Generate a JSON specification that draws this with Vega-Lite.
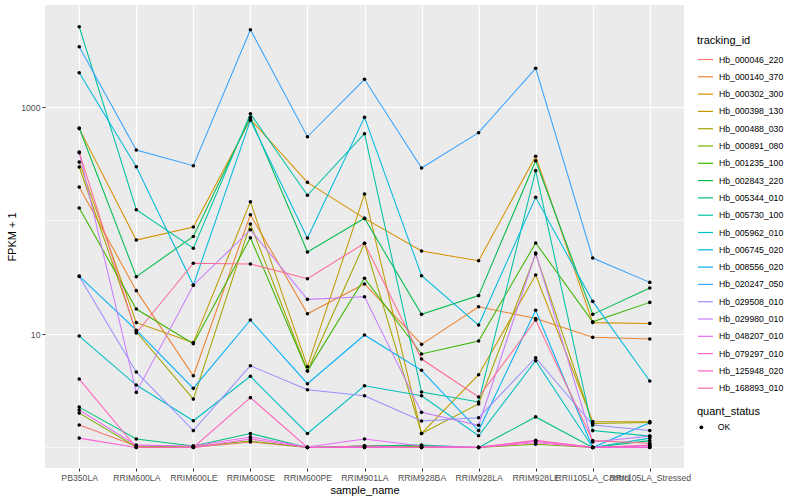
{
  "$schema": "https://vega.github.io/schema/vega-lite/v6.json",
  "width": 639,
  "height": 463,
  "autosize": {"type": "none"},
  "padding": {"left": 45, "top": 5, "right": 116, "bottom": 32},
  "background": "white",
  "config": {
    "font": "Liberation Sans",
    "view": {"fill": "#EBEBEB", "stroke": null},
    "axis": {
      "domain": false,
      "gridColor": "white",
      "gridWidth": 1.1,
      "tickColor": "#333333",
      "tickSize": 3,
      "labelColor": "#4D4D4D",
      "labelFontSize": 8.7,
      "labelPadding": 2,
      "titleFontSize": 11,
      "titleFontWeight": "normal",
      "titleColor": "black"
    },
    "legend": {
      "titleFontSize": 11,
      "titleFontWeight": "normal",
      "titleColor": "black",
      "labelFontSize": 8.7,
      "labelColor": "black"
    }
  },
  "data": {
    "values": [
      {"tracking_id":"Hb_000046_220","sample_name":"PB350LA","fpkm_plus_1":1.58,"quant_status":"OK"},
      {"tracking_id":"Hb_000046_220","sample_name":"RRIM600LA","fpkm_plus_1":1.03,"quant_status":"OK"},
      {"tracking_id":"Hb_000046_220","sample_name":"RRIM600LE","fpkm_plus_1":1.0,"quant_status":"OK"},
      {"tracking_id":"Hb_000046_220","sample_name":"RRIM600SE","fpkm_plus_1":1.12,"quant_status":"OK"},
      {"tracking_id":"Hb_000046_220","sample_name":"RRIM600PE","fpkm_plus_1":1.0,"quant_status":"OK"},
      {"tracking_id":"Hb_000046_220","sample_name":"RRIM901LA","fpkm_plus_1":1.0,"quant_status":"OK"},
      {"tracking_id":"Hb_000046_220","sample_name":"RRIM928BA","fpkm_plus_1":1.0,"quant_status":"OK"},
      {"tracking_id":"Hb_000046_220","sample_name":"RRIM928LA","fpkm_plus_1":1.0,"quant_status":"OK"},
      {"tracking_id":"Hb_000046_220","sample_name":"RRIM928LE","fpkm_plus_1":1.14,"quant_status":"OK"},
      {"tracking_id":"Hb_000046_220","sample_name":"RRII105LA_Control","fpkm_plus_1":1.0,"quant_status":"OK"},
      {"tracking_id":"Hb_000046_220","sample_name":"RRII105LA_Stressed","fpkm_plus_1":1.0,"quant_status":"OK"},

      {"tracking_id":"Hb_000140_370","sample_name":"PB350LA","fpkm_plus_1":197,"quant_status":"OK"},
      {"tracking_id":"Hb_000140_370","sample_name":"RRIM600LA","fpkm_plus_1":24.1,"quant_status":"OK"},
      {"tracking_id":"Hb_000140_370","sample_name":"RRIM600LE","fpkm_plus_1":4.29,"quant_status":"OK"},
      {"tracking_id":"Hb_000140_370","sample_name":"RRIM600SE","fpkm_plus_1":112.5,"quant_status":"OK"},
      {"tracking_id":"Hb_000140_370","sample_name":"RRIM600PE","fpkm_plus_1":15.1,"quant_status":"OK"},
      {"tracking_id":"Hb_000140_370","sample_name":"RRIM901LA","fpkm_plus_1":27.6,"quant_status":"OK"},
      {"tracking_id":"Hb_000140_370","sample_name":"RRIM928BA","fpkm_plus_1":8.11,"quant_status":"OK"},
      {"tracking_id":"Hb_000140_370","sample_name":"RRIM928LA","fpkm_plus_1":17.4,"quant_status":"OK"},
      {"tracking_id":"Hb_000140_370","sample_name":"RRIM928LE","fpkm_plus_1":13.7,"quant_status":"OK"},
      {"tracking_id":"Hb_000140_370","sample_name":"RRII105LA_Control","fpkm_plus_1":9.35,"quant_status":"OK"},
      {"tracking_id":"Hb_000140_370","sample_name":"RRII105LA_Stressed","fpkm_plus_1":9.03,"quant_status":"OK"},

      {"tracking_id":"Hb_000302_300","sample_name":"PB350LA","fpkm_plus_1":645,"quant_status":"OK"},
      {"tracking_id":"Hb_000302_300","sample_name":"RRIM600LA","fpkm_plus_1":67.3,"quant_status":"OK"},
      {"tracking_id":"Hb_000302_300","sample_name":"RRIM600LE","fpkm_plus_1":87.7,"quant_status":"OK"},
      {"tracking_id":"Hb_000302_300","sample_name":"RRIM600SE","fpkm_plus_1":779,"quant_status":"OK"},
      {"tracking_id":"Hb_000302_300","sample_name":"RRIM600PE","fpkm_plus_1":217,"quant_status":"OK"},
      {"tracking_id":"Hb_000302_300","sample_name":"RRIM901LA","fpkm_plus_1":104.5,"quant_status":"OK"},
      {"tracking_id":"Hb_000302_300","sample_name":"RRIM928BA","fpkm_plus_1":53.8,"quant_status":"OK"},
      {"tracking_id":"Hb_000302_300","sample_name":"RRIM928LA","fpkm_plus_1":44.2,"quant_status":"OK"},
      {"tracking_id":"Hb_000302_300","sample_name":"RRIM928LE","fpkm_plus_1":368,"quant_status":"OK"},
      {"tracking_id":"Hb_000302_300","sample_name":"RRII105LA_Control","fpkm_plus_1":12.6,"quant_status":"OK"},
      {"tracking_id":"Hb_000302_300","sample_name":"RRII105LA_Stressed","fpkm_plus_1":12.4,"quant_status":"OK"},

      {"tracking_id":"Hb_000398_130","sample_name":"PB350LA","fpkm_plus_1":327,"quant_status":"OK"},
      {"tracking_id":"Hb_000398_130","sample_name":"RRIM600LA","fpkm_plus_1":12.6,"quant_status":"OK"},
      {"tracking_id":"Hb_000398_130","sample_name":"RRIM600LE","fpkm_plus_1":8.4,"quant_status":"OK"},
      {"tracking_id":"Hb_000398_130","sample_name":"RRIM600SE","fpkm_plus_1":146,"quant_status":"OK"},
      {"tracking_id":"Hb_000398_130","sample_name":"RRIM600PE","fpkm_plus_1":5.15,"quant_status":"OK"},
      {"tracking_id":"Hb_000398_130","sample_name":"RRIM901LA","fpkm_plus_1":171,"quant_status":"OK"},
      {"tracking_id":"Hb_000398_130","sample_name":"RRIM928BA","fpkm_plus_1":1.33,"quant_status":"OK"},
      {"tracking_id":"Hb_000398_130","sample_name":"RRIM928LA","fpkm_plus_1":4.38,"quant_status":"OK"},
      {"tracking_id":"Hb_000398_130","sample_name":"RRIM928LE","fpkm_plus_1":33.1,"quant_status":"OK"},
      {"tracking_id":"Hb_000398_130","sample_name":"RRII105LA_Control","fpkm_plus_1":1.69,"quant_status":"OK"},
      {"tracking_id":"Hb_000398_130","sample_name":"RRII105LA_Stressed","fpkm_plus_1":1.69,"quant_status":"OK"},

      {"tracking_id":"Hb_000488_030","sample_name":"PB350LA","fpkm_plus_1":296,"quant_status":"OK"},
      {"tracking_id":"Hb_000488_030","sample_name":"RRIM600LA","fpkm_plus_1":10.45,"quant_status":"OK"},
      {"tracking_id":"Hb_000488_030","sample_name":"RRIM600LE","fpkm_plus_1":2.67,"quant_status":"OK"},
      {"tracking_id":"Hb_000488_030","sample_name":"RRIM600SE","fpkm_plus_1":93.1,"quant_status":"OK"},
      {"tracking_id":"Hb_000488_030","sample_name":"RRIM600PE","fpkm_plus_1":4.72,"quant_status":"OK"},
      {"tracking_id":"Hb_000488_030","sample_name":"RRIM901LA","fpkm_plus_1":63.0,"quant_status":"OK"},
      {"tracking_id":"Hb_000488_030","sample_name":"RRIM928BA","fpkm_plus_1":1.33,"quant_status":"OK"},
      {"tracking_id":"Hb_000488_030","sample_name":"RRIM928LA","fpkm_plus_1":2.42,"quant_status":"OK"},
      {"tracking_id":"Hb_000488_030","sample_name":"RRIM928LE","fpkm_plus_1":50.7,"quant_status":"OK"},
      {"tracking_id":"Hb_000488_030","sample_name":"RRII105LA_Control","fpkm_plus_1":1.63,"quant_status":"OK"},
      {"tracking_id":"Hb_000488_030","sample_name":"RRII105LA_Stressed","fpkm_plus_1":1.66,"quant_status":"OK"},

      {"tracking_id":"Hb_000891_080","sample_name":"PB350LA","fpkm_plus_1":2.01,"quant_status":"OK"},
      {"tracking_id":"Hb_000891_080","sample_name":"RRIM600LA","fpkm_plus_1":1.01,"quant_status":"OK"},
      {"tracking_id":"Hb_000891_080","sample_name":"RRIM600LE","fpkm_plus_1":1.02,"quant_status":"OK"},
      {"tracking_id":"Hb_000891_080","sample_name":"RRIM600SE","fpkm_plus_1":1.14,"quant_status":"OK"},
      {"tracking_id":"Hb_000891_080","sample_name":"RRIM600PE","fpkm_plus_1":1.0,"quant_status":"OK"},
      {"tracking_id":"Hb_000891_080","sample_name":"RRIM901LA","fpkm_plus_1":1.03,"quant_status":"OK"},
      {"tracking_id":"Hb_000891_080","sample_name":"RRIM928BA","fpkm_plus_1":1.02,"quant_status":"OK"},
      {"tracking_id":"Hb_000891_080","sample_name":"RRIM928LA","fpkm_plus_1":1.0,"quant_status":"OK"},
      {"tracking_id":"Hb_000891_080","sample_name":"RRIM928LE","fpkm_plus_1":1.07,"quant_status":"OK"},
      {"tracking_id":"Hb_000891_080","sample_name":"RRII105LA_Control","fpkm_plus_1":1.0,"quant_status":"OK"},
      {"tracking_id":"Hb_000891_080","sample_name":"RRII105LA_Stressed","fpkm_plus_1":1.04,"quant_status":"OK"},

      {"tracking_id":"Hb_001235_100","sample_name":"PB350LA","fpkm_plus_1":129,"quant_status":"OK"},
      {"tracking_id":"Hb_001235_100","sample_name":"RRIM600LA","fpkm_plus_1":16.6,"quant_status":"OK"},
      {"tracking_id":"Hb_001235_100","sample_name":"RRIM600LE","fpkm_plus_1":8.22,"quant_status":"OK"},
      {"tracking_id":"Hb_001235_100","sample_name":"RRIM600SE","fpkm_plus_1":70.5,"quant_status":"OK"},
      {"tracking_id":"Hb_001235_100","sample_name":"RRIM600PE","fpkm_plus_1":4.72,"quant_status":"OK"},
      {"tracking_id":"Hb_001235_100","sample_name":"RRIM901LA","fpkm_plus_1":31.0,"quant_status":"OK"},
      {"tracking_id":"Hb_001235_100","sample_name":"RRIM928BA","fpkm_plus_1":6.67,"quant_status":"OK"},
      {"tracking_id":"Hb_001235_100","sample_name":"RRIM928LA","fpkm_plus_1":8.68,"quant_status":"OK"},
      {"tracking_id":"Hb_001235_100","sample_name":"RRIM928LE","fpkm_plus_1":63.4,"quant_status":"OK"},
      {"tracking_id":"Hb_001235_100","sample_name":"RRII105LA_Control","fpkm_plus_1":12.8,"quant_status":"OK"},
      {"tracking_id":"Hb_001235_100","sample_name":"RRII105LA_Stressed","fpkm_plus_1":19.0,"quant_status":"OK"},

      {"tracking_id":"Hb_002843_220","sample_name":"PB350LA","fpkm_plus_1":653,"quant_status":"OK"},
      {"tracking_id":"Hb_002843_220","sample_name":"RRIM600LA","fpkm_plus_1":32.0,"quant_status":"OK"},
      {"tracking_id":"Hb_002843_220","sample_name":"RRIM600LE","fpkm_plus_1":72.3,"quant_status":"OK"},
      {"tracking_id":"Hb_002843_220","sample_name":"RRIM600SE","fpkm_plus_1":811,"quant_status":"OK"},
      {"tracking_id":"Hb_002843_220","sample_name":"RRIM600PE","fpkm_plus_1":52.8,"quant_status":"OK"},
      {"tracking_id":"Hb_002843_220","sample_name":"RRIM901LA","fpkm_plus_1":104.5,"quant_status":"OK"},
      {"tracking_id":"Hb_002843_220","sample_name":"RRIM928BA","fpkm_plus_1":14.9,"quant_status":"OK"},
      {"tracking_id":"Hb_002843_220","sample_name":"RRIM928LA","fpkm_plus_1":21.8,"quant_status":"OK"},
      {"tracking_id":"Hb_002843_220","sample_name":"RRIM928LE","fpkm_plus_1":336,"quant_status":"OK"},
      {"tracking_id":"Hb_002843_220","sample_name":"RRII105LA_Control","fpkm_plus_1":14.9,"quant_status":"OK"},
      {"tracking_id":"Hb_002843_220","sample_name":"RRII105LA_Stressed","fpkm_plus_1":25.4,"quant_status":"OK"},

      {"tracking_id":"Hb_005344_010","sample_name":"PB350LA","fpkm_plus_1":2.27,"quant_status":"OK"},
      {"tracking_id":"Hb_005344_010","sample_name":"RRIM600LA","fpkm_plus_1":1.19,"quant_status":"OK"},
      {"tracking_id":"Hb_005344_010","sample_name":"RRIM600LE","fpkm_plus_1":1.03,"quant_status":"OK"},
      {"tracking_id":"Hb_005344_010","sample_name":"RRIM600SE","fpkm_plus_1":1.33,"quant_status":"OK"},
      {"tracking_id":"Hb_005344_010","sample_name":"RRIM600PE","fpkm_plus_1":1.0,"quant_status":"OK"},
      {"tracking_id":"Hb_005344_010","sample_name":"RRIM901LA","fpkm_plus_1":1.03,"quant_status":"OK"},
      {"tracking_id":"Hb_005344_010","sample_name":"RRIM928BA","fpkm_plus_1":1.05,"quant_status":"OK"},
      {"tracking_id":"Hb_005344_010","sample_name":"RRIM928LA","fpkm_plus_1":1.0,"quant_status":"OK"},
      {"tracking_id":"Hb_005344_010","sample_name":"RRIM928LE","fpkm_plus_1":1.86,"quant_status":"OK"},
      {"tracking_id":"Hb_005344_010","sample_name":"RRII105LA_Control","fpkm_plus_1":1.0,"quant_status":"OK"},
      {"tracking_id":"Hb_005344_010","sample_name":"RRII105LA_Stressed","fpkm_plus_1":1.15,"quant_status":"OK"},

      {"tracking_id":"Hb_005730_100","sample_name":"PB350LA","fpkm_plus_1":5097,"quant_status":"OK"},
      {"tracking_id":"Hb_005730_100","sample_name":"RRIM600LA","fpkm_plus_1":124.5,"quant_status":"OK"},
      {"tracking_id":"Hb_005730_100","sample_name":"RRIM600LE","fpkm_plus_1":56.9,"quant_status":"OK"},
      {"tracking_id":"Hb_005730_100","sample_name":"RRIM600SE","fpkm_plus_1":873,"quant_status":"OK"},
      {"tracking_id":"Hb_005730_100","sample_name":"RRIM600PE","fpkm_plus_1":167,"quant_status":"OK"},
      {"tracking_id":"Hb_005730_100","sample_name":"RRIM901LA","fpkm_plus_1":582,"quant_status":"OK"},
      {"tracking_id":"Hb_005730_100","sample_name":"RRIM928BA","fpkm_plus_1":3.08,"quant_status":"OK"},
      {"tracking_id":"Hb_005730_100","sample_name":"RRIM928LA","fpkm_plus_1":2.52,"quant_status":"OK"},
      {"tracking_id":"Hb_005730_100","sample_name":"RRIM928LE","fpkm_plus_1":275,"quant_status":"OK"},
      {"tracking_id":"Hb_005730_100","sample_name":"RRII105LA_Control","fpkm_plus_1":1.41,"quant_status":"OK"},
      {"tracking_id":"Hb_005730_100","sample_name":"RRII105LA_Stressed","fpkm_plus_1":1.26,"quant_status":"OK"},

      {"tracking_id":"Hb_005962_010","sample_name":"PB350LA","fpkm_plus_1":9.6,"quant_status":"OK"},
      {"tracking_id":"Hb_005962_010","sample_name":"RRIM600LA","fpkm_plus_1":3.55,"quant_status":"OK"},
      {"tracking_id":"Hb_005962_010","sample_name":"RRIM600LE","fpkm_plus_1":1.72,"quant_status":"OK"},
      {"tracking_id":"Hb_005962_010","sample_name":"RRIM600SE","fpkm_plus_1":4.24,"quant_status":"OK"},
      {"tracking_id":"Hb_005962_010","sample_name":"RRIM600PE","fpkm_plus_1":1.33,"quant_status":"OK"},
      {"tracking_id":"Hb_005962_010","sample_name":"RRIM901LA","fpkm_plus_1":3.5,"quant_status":"OK"},
      {"tracking_id":"Hb_005962_010","sample_name":"RRIM928BA","fpkm_plus_1":2.86,"quant_status":"OK"},
      {"tracking_id":"Hb_005962_010","sample_name":"RRIM928LA","fpkm_plus_1":1.27,"quant_status":"OK"},
      {"tracking_id":"Hb_005962_010","sample_name":"RRIM928LE","fpkm_plus_1":5.82,"quant_status":"OK"},
      {"tracking_id":"Hb_005962_010","sample_name":"RRII105LA_Control","fpkm_plus_1":1.0,"quant_status":"OK"},
      {"tracking_id":"Hb_005962_010","sample_name":"RRII105LA_Stressed","fpkm_plus_1":1.21,"quant_status":"OK"},

      {"tracking_id":"Hb_006745_020","sample_name":"PB350LA","fpkm_plus_1":2005,"quant_status":"OK"},
      {"tracking_id":"Hb_006745_020","sample_name":"RRIM600LA","fpkm_plus_1":298,"quant_status":"OK"},
      {"tracking_id":"Hb_006745_020","sample_name":"RRIM600LE","fpkm_plus_1":27.0,"quant_status":"OK"},
      {"tracking_id":"Hb_006745_020","sample_name":"RRIM600SE","fpkm_plus_1":764,"quant_status":"OK"},
      {"tracking_id":"Hb_006745_020","sample_name":"RRIM600PE","fpkm_plus_1":70.1,"quant_status":"OK"},
      {"tracking_id":"Hb_006745_020","sample_name":"RRIM901LA","fpkm_plus_1":811,"quant_status":"OK"},
      {"tracking_id":"Hb_006745_020","sample_name":"RRIM928BA","fpkm_plus_1":32.6,"quant_status":"OK"},
      {"tracking_id":"Hb_006745_020","sample_name":"RRIM928LA","fpkm_plus_1":12.0,"quant_status":"OK"},
      {"tracking_id":"Hb_006745_020","sample_name":"RRIM928LE","fpkm_plus_1":160,"quant_status":"OK"},
      {"tracking_id":"Hb_006745_020","sample_name":"RRII105LA_Control","fpkm_plus_1":19.4,"quant_status":"OK"},
      {"tracking_id":"Hb_006745_020","sample_name":"RRII105LA_Stressed","fpkm_plus_1":3.85,"quant_status":"OK"},

      {"tracking_id":"Hb_008556_020","sample_name":"PB350LA","fpkm_plus_1":32.4,"quant_status":"OK"},
      {"tracking_id":"Hb_008556_020","sample_name":"RRIM600LA","fpkm_plus_1":10.8,"quant_status":"OK"},
      {"tracking_id":"Hb_008556_020","sample_name":"RRIM600LE","fpkm_plus_1":3.32,"quant_status":"OK"},
      {"tracking_id":"Hb_008556_020","sample_name":"RRIM600SE","fpkm_plus_1":13.3,"quant_status":"OK"},
      {"tracking_id":"Hb_008556_020","sample_name":"RRIM600PE","fpkm_plus_1":3.65,"quant_status":"OK"},
      {"tracking_id":"Hb_008556_020","sample_name":"RRIM901LA","fpkm_plus_1":9.8,"quant_status":"OK"},
      {"tracking_id":"Hb_008556_020","sample_name":"RRIM928BA","fpkm_plus_1":4.79,"quant_status":"OK"},
      {"tracking_id":"Hb_008556_020","sample_name":"RRIM928LA","fpkm_plus_1":1.41,"quant_status":"OK"},
      {"tracking_id":"Hb_008556_020","sample_name":"RRIM928LE","fpkm_plus_1":16.2,"quant_status":"OK"},
      {"tracking_id":"Hb_008556_020","sample_name":"RRII105LA_Control","fpkm_plus_1":1.0,"quant_status":"OK"},
      {"tracking_id":"Hb_008556_020","sample_name":"RRII105LA_Stressed","fpkm_plus_1":1.65,"quant_status":"OK"},

      {"tracking_id":"Hb_020247_050","sample_name":"PB350LA","fpkm_plus_1":3400,"quant_status":"OK"},
      {"tracking_id":"Hb_020247_050","sample_name":"RRIM600LA","fpkm_plus_1":418,"quant_status":"OK"},
      {"tracking_id":"Hb_020247_050","sample_name":"RRIM600LE","fpkm_plus_1":304,"quant_status":"OK"},
      {"tracking_id":"Hb_020247_050","sample_name":"RRIM600SE","fpkm_plus_1":4800,"quant_status":"OK"},
      {"tracking_id":"Hb_020247_050","sample_name":"RRIM600PE","fpkm_plus_1":547,"quant_status":"OK"},
      {"tracking_id":"Hb_020247_050","sample_name":"RRIM901LA","fpkm_plus_1":1754,"quant_status":"OK"},
      {"tracking_id":"Hb_020247_050","sample_name":"RRIM928BA","fpkm_plus_1":290,"quant_status":"OK"},
      {"tracking_id":"Hb_020247_050","sample_name":"RRIM928LA","fpkm_plus_1":594,"quant_status":"OK"},
      {"tracking_id":"Hb_020247_050","sample_name":"RRIM928LE","fpkm_plus_1":2193,"quant_status":"OK"},
      {"tracking_id":"Hb_020247_050","sample_name":"RRII105LA_Control","fpkm_plus_1":46.7,"quant_status":"OK"},
      {"tracking_id":"Hb_020247_050","sample_name":"RRII105LA_Stressed","fpkm_plus_1":28.5,"quant_status":"OK"},

      {"tracking_id":"Hb_029508_010","sample_name":"PB350LA","fpkm_plus_1":32.1,"quant_status":"OK"},
      {"tracking_id":"Hb_029508_010","sample_name":"RRIM600LA","fpkm_plus_1":4.63,"quant_status":"OK"},
      {"tracking_id":"Hb_029508_010","sample_name":"RRIM600LE","fpkm_plus_1":1.41,"quant_status":"OK"},
      {"tracking_id":"Hb_029508_010","sample_name":"RRIM600SE","fpkm_plus_1":5.26,"quant_status":"OK"},
      {"tracking_id":"Hb_029508_010","sample_name":"RRIM600PE","fpkm_plus_1":3.23,"quant_status":"OK"},
      {"tracking_id":"Hb_029508_010","sample_name":"RRIM901LA","fpkm_plus_1":2.86,"quant_status":"OK"},
      {"tracking_id":"Hb_029508_010","sample_name":"RRIM928BA","fpkm_plus_1":1.71,"quant_status":"OK"},
      {"tracking_id":"Hb_029508_010","sample_name":"RRIM928LA","fpkm_plus_1":1.83,"quant_status":"OK"},
      {"tracking_id":"Hb_029508_010","sample_name":"RRIM928LE","fpkm_plus_1":6.18,"quant_status":"OK"},
      {"tracking_id":"Hb_029508_010","sample_name":"RRII105LA_Control","fpkm_plus_1":1.58,"quant_status":"OK"},
      {"tracking_id":"Hb_029508_010","sample_name":"RRII105LA_Stressed","fpkm_plus_1":1.41,"quant_status":"OK"},

      {"tracking_id":"Hb_029980_010","sample_name":"PB350LA","fpkm_plus_1":395,"quant_status":"OK"},
      {"tracking_id":"Hb_029980_010","sample_name":"RRIM600LA","fpkm_plus_1":3.06,"quant_status":"OK"},
      {"tracking_id":"Hb_029980_010","sample_name":"RRIM600LE","fpkm_plus_1":26.9,"quant_status":"OK"},
      {"tracking_id":"Hb_029980_010","sample_name":"RRIM600SE","fpkm_plus_1":83,"quant_status":"OK"},
      {"tracking_id":"Hb_029980_010","sample_name":"RRIM600PE","fpkm_plus_1":20.2,"quant_status":"OK"},
      {"tracking_id":"Hb_029980_010","sample_name":"RRIM901LA","fpkm_plus_1":21.3,"quant_status":"OK"},
      {"tracking_id":"Hb_029980_010","sample_name":"RRIM928BA","fpkm_plus_1":2.04,"quant_status":"OK"},
      {"tracking_id":"Hb_029980_010","sample_name":"RRIM928LA","fpkm_plus_1":1.57,"quant_status":"OK"},
      {"tracking_id":"Hb_029980_010","sample_name":"RRIM928LE","fpkm_plus_1":51.7,"quant_status":"OK"},
      {"tracking_id":"Hb_029980_010","sample_name":"RRII105LA_Control","fpkm_plus_1":1.12,"quant_status":"OK"},
      {"tracking_id":"Hb_029980_010","sample_name":"RRII105LA_Stressed","fpkm_plus_1":1.26,"quant_status":"OK"},

      {"tracking_id":"Hb_048207_010","sample_name":"PB350LA","fpkm_plus_1":2.14,"quant_status":"OK"},
      {"tracking_id":"Hb_048207_010","sample_name":"RRIM600LA","fpkm_plus_1":1.05,"quant_status":"OK"},
      {"tracking_id":"Hb_048207_010","sample_name":"RRIM600LE","fpkm_plus_1":1.03,"quant_status":"OK"},
      {"tracking_id":"Hb_048207_010","sample_name":"RRIM600SE","fpkm_plus_1":1.24,"quant_status":"OK"},
      {"tracking_id":"Hb_048207_010","sample_name":"RRIM600PE","fpkm_plus_1":1.01,"quant_status":"OK"},
      {"tracking_id":"Hb_048207_010","sample_name":"RRIM901LA","fpkm_plus_1":1.19,"quant_status":"OK"},
      {"tracking_id":"Hb_048207_010","sample_name":"RRIM928BA","fpkm_plus_1":1.03,"quant_status":"OK"},
      {"tracking_id":"Hb_048207_010","sample_name":"RRIM928LA","fpkm_plus_1":1.01,"quant_status":"OK"},
      {"tracking_id":"Hb_048207_010","sample_name":"RRIM928LE","fpkm_plus_1":1.14,"quant_status":"OK"},
      {"tracking_id":"Hb_048207_010","sample_name":"RRII105LA_Control","fpkm_plus_1":1.01,"quant_status":"OK"},
      {"tracking_id":"Hb_048207_010","sample_name":"RRII105LA_Stressed","fpkm_plus_1":1.03,"quant_status":"OK"},

      {"tracking_id":"Hb_079297_010","sample_name":"PB350LA","fpkm_plus_1":1.21,"quant_status":"OK"},
      {"tracking_id":"Hb_079297_010","sample_name":"RRIM600LA","fpkm_plus_1":1.0,"quant_status":"OK"},
      {"tracking_id":"Hb_079297_010","sample_name":"RRIM600LE","fpkm_plus_1":1.0,"quant_status":"OK"},
      {"tracking_id":"Hb_079297_010","sample_name":"RRIM600SE","fpkm_plus_1":1.19,"quant_status":"OK"},
      {"tracking_id":"Hb_079297_010","sample_name":"RRIM600PE","fpkm_plus_1":1.0,"quant_status":"OK"},
      {"tracking_id":"Hb_079297_010","sample_name":"RRIM901LA","fpkm_plus_1":1.0,"quant_status":"OK"},
      {"tracking_id":"Hb_079297_010","sample_name":"RRIM928BA","fpkm_plus_1":1.0,"quant_status":"OK"},
      {"tracking_id":"Hb_079297_010","sample_name":"RRIM928LA","fpkm_plus_1":1.0,"quant_status":"OK"},
      {"tracking_id":"Hb_079297_010","sample_name":"RRIM928LE","fpkm_plus_1":1.1,"quant_status":"OK"},
      {"tracking_id":"Hb_079297_010","sample_name":"RRII105LA_Control","fpkm_plus_1":1.0,"quant_status":"OK"},
      {"tracking_id":"Hb_079297_010","sample_name":"RRII105LA_Stressed","fpkm_plus_1":1.0,"quant_status":"OK"},

      {"tracking_id":"Hb_125948_020","sample_name":"PB350LA","fpkm_plus_1":4.01,"quant_status":"OK"},
      {"tracking_id":"Hb_125948_020","sample_name":"RRIM600LA","fpkm_plus_1":1.0,"quant_status":"OK"},
      {"tracking_id":"Hb_125948_020","sample_name":"RRIM600LE","fpkm_plus_1":1.0,"quant_status":"OK"},
      {"tracking_id":"Hb_125948_020","sample_name":"RRIM600SE","fpkm_plus_1":2.75,"quant_status":"OK"},
      {"tracking_id":"Hb_125948_020","sample_name":"RRIM600PE","fpkm_plus_1":1.0,"quant_status":"OK"},
      {"tracking_id":"Hb_125948_020","sample_name":"RRIM901LA","fpkm_plus_1":1.03,"quant_status":"OK"},
      {"tracking_id":"Hb_125948_020","sample_name":"RRIM928BA","fpkm_plus_1":1.0,"quant_status":"OK"},
      {"tracking_id":"Hb_125948_020","sample_name":"RRIM928LA","fpkm_plus_1":1.0,"quant_status":"OK"},
      {"tracking_id":"Hb_125948_020","sample_name":"RRIM928LE","fpkm_plus_1":1.16,"quant_status":"OK"},
      {"tracking_id":"Hb_125948_020","sample_name":"RRII105LA_Control","fpkm_plus_1":1.0,"quant_status":"OK"},
      {"tracking_id":"Hb_125948_020","sample_name":"RRII105LA_Stressed","fpkm_plus_1":1.05,"quant_status":"OK"},

      {"tracking_id":"Hb_168893_010","sample_name":"PB350LA","fpkm_plus_1":401,"quant_status":"OK"},
      {"tracking_id":"Hb_168893_010","sample_name":"RRIM600LA","fpkm_plus_1":10.2,"quant_status":"OK"},
      {"tracking_id":"Hb_168893_010","sample_name":"RRIM600LE","fpkm_plus_1":42.0,"quant_status":"OK"},
      {"tracking_id":"Hb_168893_010","sample_name":"RRIM600SE","fpkm_plus_1":41.4,"quant_status":"OK"},
      {"tracking_id":"Hb_168893_010","sample_name":"RRIM600PE","fpkm_plus_1":30.7,"quant_status":"OK"},
      {"tracking_id":"Hb_168893_010","sample_name":"RRIM901LA","fpkm_plus_1":63.0,"quant_status":"OK"},
      {"tracking_id":"Hb_168893_010","sample_name":"RRIM928BA","fpkm_plus_1":6.02,"quant_status":"OK"},
      {"tracking_id":"Hb_168893_010","sample_name":"RRIM928LA","fpkm_plus_1":2.79,"quant_status":"OK"},
      {"tracking_id":"Hb_168893_010","sample_name":"RRIM928LE","fpkm_plus_1":13.3,"quant_status":"OK"},
      {"tracking_id":"Hb_168893_010","sample_name":"RRII105LA_Control","fpkm_plus_1":1.15,"quant_status":"OK"},
      {"tracking_id":"Hb_168893_010","sample_name":"RRII105LA_Stressed","fpkm_plus_1":1.09,"quant_status":"OK"}
    ]
  },
  "encoding": {
    "x": {
      "field": "sample_name",
      "type": "nominal",
      "sort": ["PB350LA","RRIM600LA","RRIM600LE","RRIM600SE","RRIM600PE","RRIM901LA","RRIM928BA","RRIM928LA","RRIM928LE","RRII105LA_Control","RRII105LA_Stressed"],
      "scale": {"type": "point", "padding": 0.6},
      "axis": {"title": "sample_name", "labelAngle": 0, "grid": true, "labelLimit": 0, "titlePadding": 3}
    },
    "y": {
      "field": "fpkm_plus_1",
      "type": "quantitative",
      "scale": {"type": "log", "domain": [0.66, 7920], "nice": false, "zero": false},
      "axis": {"title": "FPKM + 1", "values": [10, 1000], "format": "d", "grid": true, "titlePadding": 3}
    }
  },
  "layer": [
    {
      "data": {"values": [{"minor_break": 1}, {"minor_break": 100}]},
      "mark": {"type": "rule", "color": "white", "strokeWidth": 0.6},
      "encoding": {
        "x": null,
        "y": {"field": "minor_break", "type": "quantitative"}
      }
    },
    {
      "mark": {"type": "line", "strokeWidth": 1.05},
      "encoding": {
        "order": {"value": null},
        "color": {
          "field": "tracking_id",
          "type": "nominal",
          "scale": {
            "domain": ["Hb_000046_220","Hb_000140_370","Hb_000302_300","Hb_000398_130","Hb_000488_030","Hb_000891_080","Hb_001235_100","Hb_002843_220","Hb_005344_010","Hb_005730_100","Hb_005962_010","Hb_006745_020","Hb_008556_020","Hb_020247_050","Hb_029508_010","Hb_029980_010","Hb_048207_010","Hb_079297_010","Hb_125948_020","Hb_168893_010"],
            "range": ["#F8766D","#EA8331","#D89000","#C09B00","#A3A500","#7CAE00","#39B600","#00BB4E","#00BF7D","#00C1A3","#00BFC4","#00BAE0","#00B0F6","#35A2FF","#9590FF","#C77CFF","#E76BF3","#FA62DB","#FF62BC","#FF6C91"]
          },
          "legend": {
            "title": "tracking_id",
            "orient": "none",
            "legendX": 652,
            "legendY": 30,
            "symbolType": "stroke",
            "symbolSize": 225,
            "symbolStrokeWidth": 1.2,
            "rowPadding": 3.3,
            "labelOffset": 5,
            "titlePadding": 5
          }
        }
      }
    },
    {
      "mark": {"type": "point", "filled": true, "size": 13, "color": "black", "opacity": 1},
      "encoding": {
        "shape": {
          "field": "quant_status",
          "type": "nominal",
          "scale": {"range": ["circle"]},
          "legend": {
            "title": "quant_status",
            "orient": "none",
            "legendX": 652,
            "legendY": 401,
            "symbolSize": 14,
            "symbolFillColor": "black",
            "symbolStrokeColor": "black",
            "labelOffset": 12,
            "titlePadding": 6
          }
        }
      }
    }
  ]
}
